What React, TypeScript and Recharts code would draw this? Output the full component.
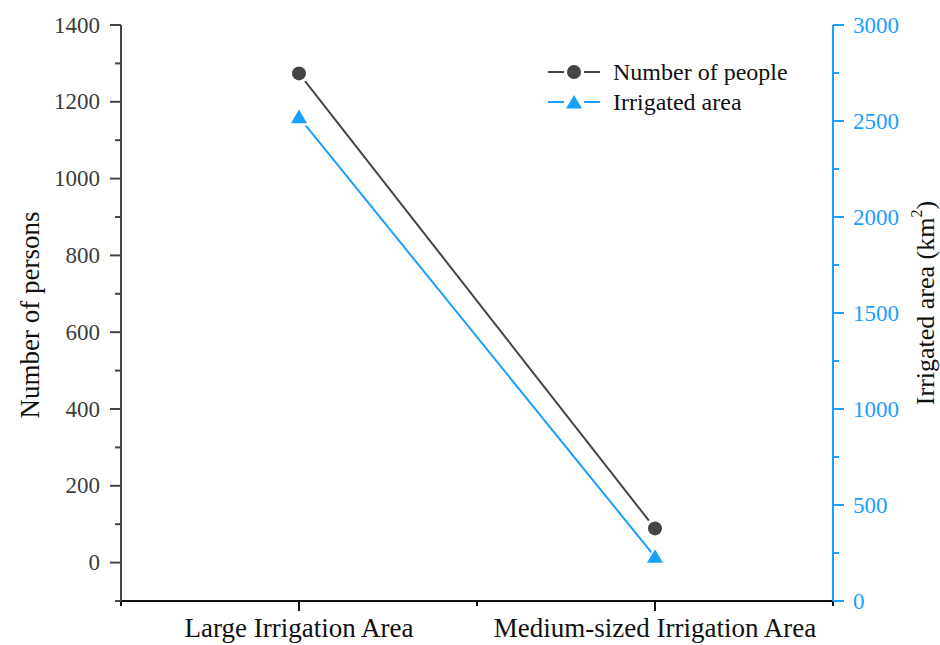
import { Line, LineChart, XAxis, YAxis } from 'recharts'

const FONT = '"Liberation Serif", "Times New Roman", Times, serif'
const GREY = '#454545'
const BLUE = '#1a9fff'

const categories = ['Large Irrigation Area', 'Medium-sized Irrigation Area']
const people = [1274, 89]
const irrigatedArea = [2520, 230]

const personTicks = [-100, 0, 100, 200, 300, 400, 500, 600, 700, 800, 900, 1000, 1100, 1200, 1300, 1400]
const areaTicks = [0, 250, 500, 750, 1000, 1250, 1500, 1750, 2000, 2250, 2500, 2750, 3000]
const positionTicks = [0.5, 1, 1.5, 2, 2.5]

const legendRows = [
  { label: 'Number of people', color: GREY, shape: 'circle' },
  { label: 'Irrigated area', color: BLUE, shape: 'triangle' },
]

const data = categories.map((name, i) => ({
  pos: i + 1,
  name,
  people: people[i],
  area: irrigatedArea[i],
}))

function PersonTick({ x, y, payload }: any) {
  const v = payload.value
  const major = v % 200 === 0
  const len = major ? 11 : 6
  return (
    <g>
      <line x1={x} x2={x - len} y1={y} y2={y} stroke={GREY} strokeWidth={2} />
      {major && v >= 0 && (
        <text x={x - 21} y={y} textAnchor="end" dominantBaseline="central" fontFamily={FONT} fontSize={23} fill="#3c3c3c">
          {v}
        </text>
      )}
    </g>
  )
}

function AreaTick({ x, y, payload }: any) {
  const v = payload.value
  const major = v % 500 === 0
  const len = major ? 11 : 6
  return (
    <g>
      <line x1={x} x2={x + len} y1={y} y2={y} stroke={BLUE} strokeWidth={2} />
      {major && (
        <text x={x + 20} y={y} textAnchor="start" dominantBaseline="central" fontFamily={FONT} fontSize={23} fill={BLUE}>
          {v}
        </text>
      )}
    </g>
  )
}

function CategoryTick({ x, y, payload }: any) {
  const v = payload.value
  const major = Number.isInteger(v)
  const len = major ? 10 : 5
  return (
    <g>
      <line x1={x} x2={x} y1={y} y2={y + len} stroke="#111" strokeWidth={2} />
      {major && (
        <text x={x} y={y + 36} textAnchor="middle" fontFamily={FONT} fontSize={27} fill="#111">
          {categories[v - 1]}
        </text>
      )}
    </g>
  )
}

// top frame: inward ticks only
function TopTick({ x, y, payload }: any) {
  const major = Number.isInteger(payload.value)
  if (!major) return <g />
  return <line x1={x} x2={x} y1={y} y2={y + 10} stroke="#111" strokeWidth={2} />
}

function PersonDot({ cx, cy }: any) {
  return (
    <g>
      <circle cx={cx} cy={cy} r={10} fill="#fff" />
      <circle cx={cx} cy={cy} r={7} fill={GREY} />
    </g>
  )
}

function trianglePoints(cx: number, cy: number, s: number) {
  return `${cx},${cy - s * 0.95} ${cx + s},${cy + s * 0.75} ${cx - s},${cy + s * 0.75}`
}

function AreaDot({ cx, cy }: any) {
  return (
    <g>
      <polygon points={trianglePoints(cx, cy, 11)} fill="#fff" />
      <polygon points={trianglePoints(cx, cy, 8)} fill={BLUE} />
    </g>
  )
}

function LegendBox() {
  return (
    <div style={{ position: 'absolute', left: 548, top: 57, fontFamily: FONT, fontSize: 24, color: '#111', lineHeight: 1 }}>
      {legendRows.map((r) => (
        <div key={r.label} style={{ display: 'flex', alignItems: 'center', height: 30 }}>
          <svg width={63} height={20} style={{ marginRight: 2 }}>
            <line x1={0} x2={16} y1={10} y2={10} stroke={r.color} strokeWidth={2} />
            <line x1={36} x2={52} y1={10} y2={10} stroke={r.color} strokeWidth={2} />
            {r.shape === 'circle' ? (
              <circle cx={26} cy={10} r={7} fill={r.color} />
            ) : (
              <polygon points={trianglePoints(26, 10.5, 8)} fill={r.color} />
            )}
          </svg>
          <span>{r.label}</span>
        </div>
      ))}
    </div>
  )
}

function LeftTitle({ viewBox }: any) {
  const cx = viewBox.x + 30
  const cy = viewBox.y + viewBox.height / 2 + 2
  return (
    <text x={cx} y={cy} transform={`rotate(-90 ${cx} ${cy})`} textAnchor="middle" dominantBaseline="central" fontFamily={FONT} fontSize={27} fill="#111">
      Number of persons
    </text>
  )
}

function RightTitle({ viewBox }: any) {
  const cx = viewBox.x + 92
  const cy = viewBox.y + viewBox.height / 2 - 10
  return (
    <text x={cx} y={cy} transform={`rotate(-90 ${cx} ${cy})`} textAnchor="middle" dominantBaseline="central" fontFamily={FONT} fontSize={26} fill="#111">
      Irrigated area (km
      <tspan dy={-9} fontSize={16}>2</tspan>
      <tspan dy={9}>)</tspan>
    </text>
  )
}

export default function App() {
  return (
    <div style={{ position: 'absolute', left: 0, top: 0, width: 940, height: 645, background: '#fff' }}>
      <LineChart width={940} height={645} data={data} margin={{ top: 25, right: 0, bottom: 0, left: 0 }}>
        <XAxis
          xAxisId="bottom"
          dataKey="pos"
          type="number"
          domain={[0.5, 2.5]}
          ticks={positionTicks}
          height={44}
          axisLine={{ stroke: '#111', strokeWidth: 2 }}
          tickLine={false}
          tickSize={0}
          tickMargin={0}
          tick={<CategoryTick />}
          interval={0}
        />
        <XAxis
          xAxisId="top"
          orientation="top"
          dataKey="pos"
          type="number"
          domain={[0.5, 2.5]}
          ticks={positionTicks}
          height={0}
          axisLine={{ stroke: '#111', strokeWidth: 2 }}
          tickLine={false}
          tickSize={0}
          tickMargin={0}
          tick={<TopTick />}
          interval={0}
        />
        <YAxis
          yAxisId="people"
          orientation="left"
          domain={[-100, 1400]}
          ticks={personTicks}
          width={121}
          axisLine={{ stroke: GREY, strokeWidth: 2 }}
          tickLine={false}
          tickSize={0}
          tickMargin={0}
          tick={<PersonTick />}
          interval={0}
          label={(p: any) => <LeftTitle viewBox={p.viewBox} />}
        />
        <YAxis
          yAxisId="area"
          orientation="right"
          domain={[0, 3000]}
          ticks={areaTicks}
          width={107}
          axisLine={{ stroke: BLUE, strokeWidth: 2 }}
          tickLine={false}
          tickSize={0}
          tickMargin={0}
          tick={<AreaTick />}
          interval={0}
          label={(p: any) => <RightTitle viewBox={p.viewBox} />}
        />
        <Line
          xAxisId="bottom"
          yAxisId="people"
          dataKey="people"
          name="Number of people"
          stroke={GREY}
          strokeWidth={2}
          dot={(p: any) => <PersonDot key={`p-${p.index}`} {...p} />}
          activeDot={false}
          isAnimationActive={false}
        />
        <Line
          xAxisId="bottom"
          yAxisId="area"
          dataKey="area"
          name="Irrigated area"
          stroke={BLUE}
          strokeWidth={2}
          dot={(p: any) => <AreaDot key={`a-${p.index}`} {...p} />}
          activeDot={false}
          isAnimationActive={false}
        />
      </LineChart>
      <LegendBox />
    </div>
  )
}
